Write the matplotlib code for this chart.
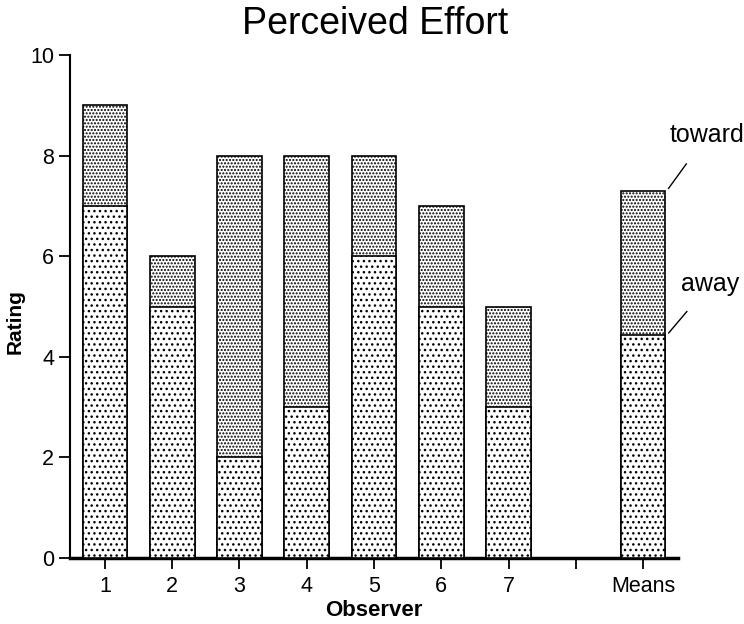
import numpy as np
import matplotlib
matplotlib.use("Agg")
import matplotlib.pyplot as plt

plt.rcParams['font.family'] = ['Liberation Sans', 'DejaVu Sans']
plt.rcParams['hatch.linewidth'] = 1.0

positions = [1, 2, 3, 4, 5, 6, 7, 9]
tick_pos = [1, 2, 3, 4, 5, 6, 7, 8, 9]
tick_labels = ['1', '2', '3', '4', '5', '6', '7', '', 'Means']
toward = [9, 6, 8, 8, 8, 7, 5, 7.3]
away = [7, 5, 2, 3, 6, 5, 3, 4.43]

fig = plt.figure(figsize=(7.44, 6.24), dpi=100)
ax = fig.add_axes([70/744, 1 - 558/624, 608/744, 503/624])

w = 0.667
ax.bar(positions, toward, width=w, facecolor='white', edgecolor='black',
       hatch='.....', linewidth=1.2, zorder=2)
ax.bar(positions, away, width=w, facecolor='white', edgecolor='black',
       hatch='...', linewidth=1.2, zorder=3)

ax.set_xlim(0.48, 9.52)
ax.set_ylim(0, 10)
ax.set_yticks([0, 2, 4, 6, 8, 10])
ax.set_xticks(tick_pos)
ax.set_xticklabels(tick_labels)
ax.tick_params(axis='both', labelsize=15.5, direction='out', length=8, width=1.3)
ax.tick_params(axis='x', pad=5)
ax.spines['top'].set_visible(False)
ax.spines['right'].set_visible(False)
ax.spines['left'].set_linewidth(1.5)
ax.spines['bottom'].set_linewidth(2.5)

ax.set_ylabel('Rating', fontsize=15, fontweight='bold')
ax.yaxis.set_label_coords(-0.074, 0.47)
ax.set_xlabel('Observer', fontsize=16, fontweight='bold', labelpad=2)
fig.text(375/744, 1 - 24/624, 'Perceived Effort', fontsize=27, ha='center', va='center')

ax.annotate('toward', xy=(9 + w/2 + 0.02, toward[-1]), xytext=(9.95, 8.4),
            fontsize=18, ha='center', va='center', annotation_clip=False,
            arrowprops=dict(arrowstyle='-', color='black', lw=1, shrinkA=12, shrinkB=2))
ax.annotate('away', xy=(9 + w/2 + 0.02, away[-1]), xytext=(10.0, 5.45),
            fontsize=18, ha='center', va='center', annotation_clip=False,
            arrowprops=dict(arrowstyle='-', color='black', lw=1, shrinkA=12, shrinkB=2))

fig.savefig('out.png', dpi=100)
